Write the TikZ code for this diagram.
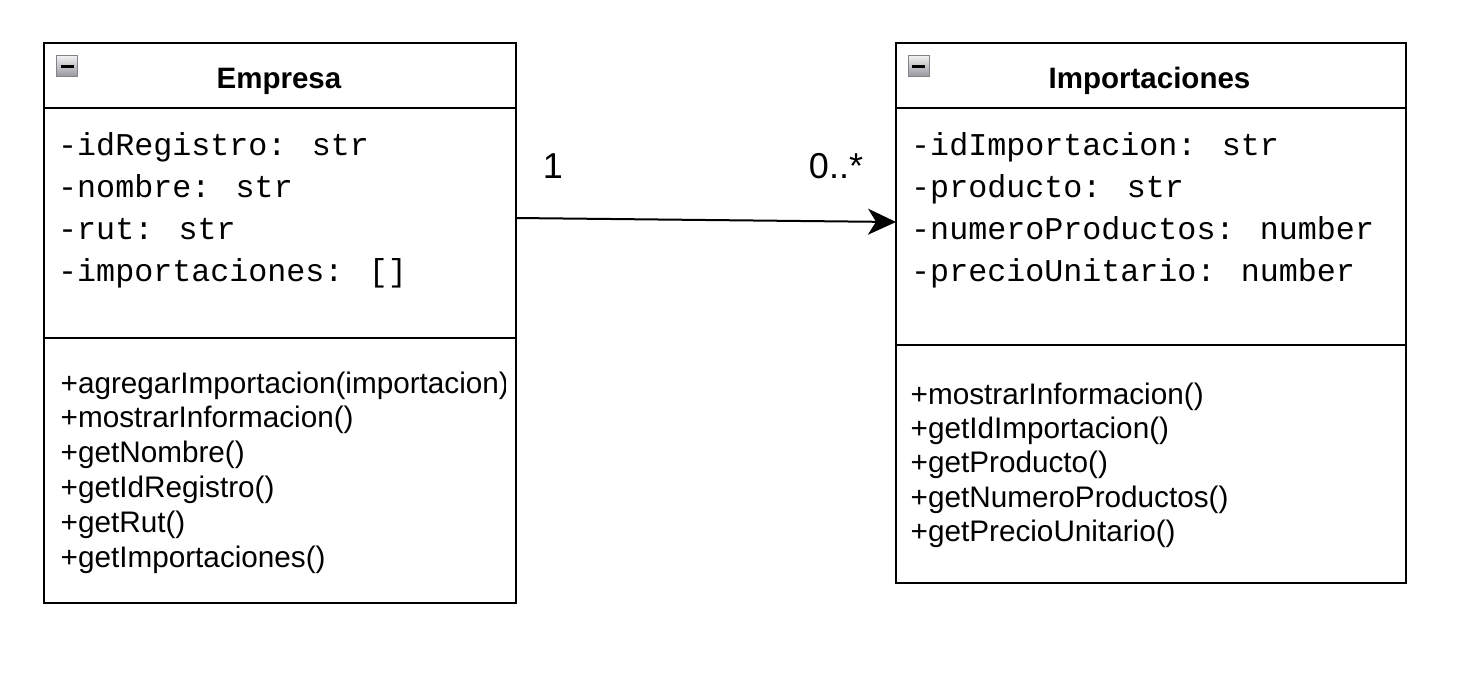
\documentclass[tikz,border=0pt]{standalone}
\usepackage{fontspec}
\setmainfont{Liberation Sans}
\newfontfamily\codefont{Liberation Mono}
\usetikzlibrary{arrows.meta}
\definecolor{togglefill}{RGB}{150,150,158}
\definecolor{toggledraw}{RGB}{130,130,138}

\begin{document}
\begin{tikzpicture}[x=1pt, y=-1pt,
    part/.style={draw, line width=2pt, anchor=north west, inner sep=0pt, outer sep=0pt},
    title/.style={font=\fontsize{29.5}{35}\selectfont\bfseries, anchor=base, inner sep=0pt},
    attr/.style={font=\codefont\fontsize{31.7}{40}\selectfont, anchor=base west, inner sep=0pt},
    op/.style={font=\fontsize{29.7}{35}\selectfont, anchor=base west, inner sep=0pt},
    mult/.style={font=\fontsize{36}{40}\selectfont, anchor=base, inner sep=0pt},
    toggle/.style={draw=toggledraw, line width=1pt, top color=white!90!gray, bottom color=togglefill,
        minimum size=21pt, inner sep=0pt,
        path picture={\draw[draw=black, line width=3pt] ([xshift=-6.5pt]path picture bounding box.center)
            -- ([xshift=6.5pt]path picture bounding box.center);}},
    assoc/.style={line width=2pt, -{Stealth[length=28pt, width=26pt, inset=8pt]}}]

    \fill[white] (0,0) rectangle (1458,699);
    \useasboundingbox (0,0) rectangle (1458,699);

    % class Empresa
    \node[part, minimum width=472pt, minimum height=65pt] (empresaHead) at (44,43) {};
    \node[part, minimum width=472pt, minimum height=230pt] (empresaAttr) at (44,108) {};
    \node[part, minimum width=472pt, minimum height=265pt] (empresaOps) at (44,338) {};
    \node[toggle] (empresaToggle) at (67,66) {};
    \node[title] (empresaTitle) at (279,88) {Empresa};
    \node[attr] (empresaA1) at (58,155) {-idRegistro: str};
    \node[attr] (empresaA2) at (58,197) {-nombre: str};
    \node[attr] (empresaA3) at (58,239) {-rut: str};
    \node[attr] (empresaA4) at (58,281) {-importaciones: []};
    \begin{scope}
        \clip (empresaOps.north west) rectangle ([xshift=-11pt]empresaOps.south east);
        \node[op] (empresaM1) at (60.5,393) {+agregarImportacion(importacion)};
    \end{scope}
    \node[op] (empresaM2) at (60.5,427.8) {+mostrarInformacion()};
    \node[op] (empresaM3) at (60.5,462.6) {+getNombre()};
    \node[op] (empresaM4) at (60.5,497.4) {+getIdRegistro()};
    \node[op] (empresaM5) at (60.5,532.2) {+getRut()};
    \node[op] (empresaM6) at (60.5,567) {+getImportaciones()};

    % class Importaciones
    \node[part, minimum width=510pt, minimum height=65pt] (importHead) at (896,43) {};
    \node[part, minimum width=510pt, minimum height=237pt] (importAttr) at (896,108) {};
    \node[part, minimum width=510pt, minimum height=238pt] (importOps) at (896,345) {};
    \node[toggle] (importToggle) at (918.5,66) {};
    \node[title] (importTitle) at (1149.5,88) {Importaciones};
    \node[attr] (importA1) at (911,155) {-idImportacion: str};
    \node[attr] (importA2) at (911,197) {-producto: str};
    \node[attr] (importA3) at (911,239) {-numeroProductos: number};
    \node[attr] (importA4) at (911,281) {-precioUnitario: number};
    \node[op] (importM1) at (910.5,404) {+mostrarInformacion()};
    \node[op] (importM2) at (910.5,438.4) {+getIdImportacion()};
    \node[op] (importM3) at (910.5,472.8) {+getProducto()};
    \node[op] (importM4) at (910.5,507.2) {+getNumeroProductos()};
    \node[op] (importM5) at (910.5,541.6) {+getPrecioUnitario()};

    % association
    \draw[assoc] ([yshift=5pt]empresaAttr.east) -- ([yshift=4.5pt]importAttr.west);
    \node[mult] (multOne) at (553,178) {1};
    \node[mult] (multMany) at (836,178) {0..*};
\end{tikzpicture}
\end{document}
